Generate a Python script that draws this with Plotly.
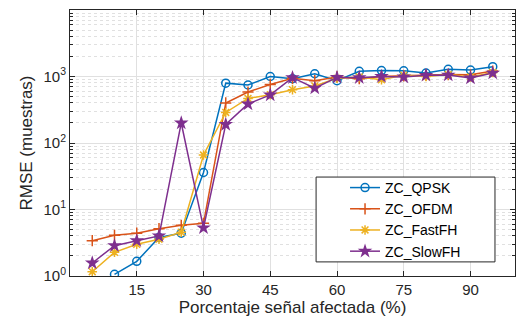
import plotly.graph_objects as go

x_all = [5, 10, 15, 20, 25, 30, 35, 40, 45, 50, 55, 60, 65, 70, 75, 80, 85, 90, 95]
x_qpsk = x_all[1:]

qpsk = [1.06, 1.66, 3.8, 4.4, 36, 795, 745, 1000, 927, 1100, 865, 1195, 1230, 1220, 1125, 1280, 1250, 1405]
ofdm = [3.4, 4.1, 4.4, 5.15, 5.8, 6.2, 400, 585, 760, 940, 865, 985, 927, 1000, 1025, 1050, 1070, 1060, 1210]
fastfh = [1.16, 2.27, 3.0, 3.57, 4.55, 66, 288, 468, 532, 634, 720, 940, 985, 895, 1050, 1000, 1070, 985, 1150]
slowfh = [1.57, 2.86, 3.4, 4.0, 200, 5.3, 190, 386, 528, 960, 670, 970, 960, 1000, 985, 1040, 1050, 950, 1125]

x_ticks = [15, 30, 45, 60, 75, 90]
y_ticks = [1, 10, 100, 1000, 10000]
y_ticktext = ["10<sup>0</sup>", "10<sup>1</sup>", "10<sup>2</sup>", "10<sup>3</sup>", "10<sup>4</sup>"]

FONT = "Liberation Sans, Arial, Helvetica, sans-serif"
AX = "#262626"

fig = go.Figure()
fig.add_trace(go.Scatter(x=x_qpsk, y=qpsk, name="ZC_QPSK", mode="lines+markers",
                         line=dict(color="#0072BD", width=1.5),
                         marker=dict(symbol="circle-open", size=8, color="#0072BD", line=dict(width=1.5))))
fig.add_trace(go.Scatter(x=x_all, y=ofdm, name="ZC_OFDM", mode="lines+markers",
                         line=dict(color="#D95319", width=1.5),
                         marker=dict(symbol="cross-thin-open", size=8, color="#D95319", line=dict(width=1.5, color="#D95319"))))
fig.add_trace(go.Scatter(x=x_all, y=fastfh, name="ZC_FastFH", mode="lines+markers",
                         line=dict(color="#EDB120", width=1.5),
                         marker=dict(symbol="asterisk-open", size=8, color="#EDB120", line=dict(width=1.5, color="#EDB120"))))
fig.add_trace(go.Scatter(x=x_all, y=slowfh, name="ZC_SlowFH", mode="lines+markers",
                         line=dict(color="#7E2F8E", width=1.5),
                         marker=dict(symbol="star", size=11, color="#7E2F8E")))

# legend frame (plot-area fractions)
box_x0, box_x1 = 0.553, 0.955
box_y0, box_y1 = 0.053, 0.372

fig.update_layout(
    width=518, height=326,
    margin=dict(l=70, r=3, t=10, b=50),
    paper_bgcolor="white", plot_bgcolor="white",
    font=dict(family=FONT, size=15, color=AX),
    showlegend=True,
    legend=dict(x=(box_x0 + box_x1) / 2, y=(box_y0 + box_y1) / 2,
                xanchor="center", yanchor="middle",
                bgcolor="rgba(0,0,0,0)", borderwidth=0,
                font=dict(size=14, color="black"), tracegroupgap=0),
    shapes=[dict(type="rect", xref="paper", yref="paper",
                 x0=box_x0, x1=box_x1, y0=box_y0, y1=box_y1,
                 fillcolor="white", line=dict(color=AX, width=1), layer="above")],
)
fig.update_xaxes(
    range=[0, 100], tickvals=x_ticks, ticks="inside", ticklen=5, tickcolor=AX,
    showline=True, linecolor=AX, linewidth=1, mirror="ticks",
    showgrid=True, gridcolor="#E0E0E0", gridwidth=1, zeroline=False,
    title=dict(text="Porcentaje señal afectada (%)", font=dict(size=17, color=AX), standoff=3),
    tickfont=dict(size=15, color=AX),
)
fig.update_yaxes(
    type="log", range=[0, 4], tickvals=y_ticks, ticktext=y_ticktext,
    ticks="inside", ticklen=5, tickcolor=AX,
    showline=True, linecolor=AX, linewidth=1, mirror="ticks",
    showgrid=True, gridcolor="#E0E0E0", gridwidth=1, zeroline=False,
    minor=dict(ticks="inside", ticklen=3, tickcolor=AX, showgrid=True,
               gridcolor="#E0E0E0", griddash="dot", dtick="D1"),
    title=dict(text="RMSE (muestras)", font=dict(size=17, color=AX), standoff=6),
    tickfont=dict(size=15, color=AX),
)

fig.write_html("out.html")
